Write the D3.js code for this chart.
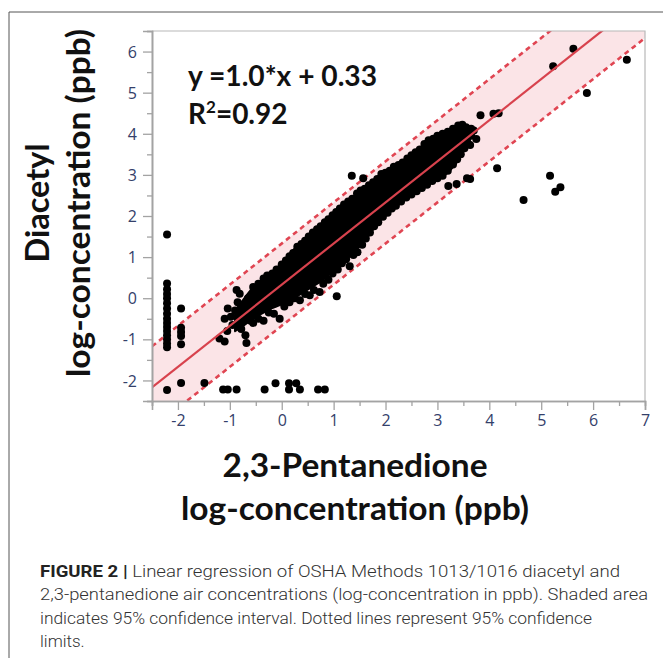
<!DOCTYPE html>
<html><head><meta charset="utf-8">
<script src="https://cdn.jsdelivr.net/npm/d3@7"></script>
<style>body{margin:0;background:#fff}</style>
</head><body>
<svg id="c" width="663" height="658"></svg>
<script>
// ---------- data ----------
const xTicks = [-2,-1,0,1,2,3,4,5,6,7];
const yTicks = [-2,-1,0,1,2,3,4,5,6];
const xDomain = [-2.5, 7];
const yDomain = [-2.5, 6.5];
const fitSlope = 1.0, fitIntercept = 0.33, limitOffset = 1.0;
const equationText = "y =1.0*x + 0.33";
const r2Text = "0.92";

// dense core of the cluster (x, lower edge, upper edge)
const clusterX  = [-0.9,-0.75,-0.55,-0.25,0.0,0.3,0.55,0.8,1.05,1.3,1.6,1.9,2.2,2.5,2.8,3.1,3.4,3.6,3.7];
const clusterLo = [-0.8,-0.68,-0.5,-0.28,-0.15,0.05,0.25,0.45,0.75,1.0,1.4,1.9,2.25,2.5,2.75,2.95,3.35,3.8,4.05];
const clusterHi = [-0.3,-0.05,0.27,0.57,0.85,1.28,1.55,1.85,2.1,2.38,2.68,3.0,3.2,3.48,3.8,3.98,4.18,4.15,4.1];

// points along the upper edge of the cluster
const upperEdgePts = [[-0.55,0.27],[-0.45,0.35],[-0.35,0.48],[-0.28,0.55],[-0.18,0.6],[-0.1,0.7],[0.0,0.82],[0.08,0.92],[0.15,1.02],[0.22,1.1],[0.3,1.25],[0.38,1.32],[0.45,1.4],[0.52,1.5],[0.6,1.6],[0.68,1.68],[0.75,1.75],[0.83,1.85],[0.9,1.92],[0.98,2.02],[1.05,2.1],[1.12,2.18],[1.2,2.28],[1.28,2.35],[1.36,2.42],[1.45,2.55],[1.52,2.62],[1.6,2.66],[1.68,2.75],[1.76,2.82],[1.84,2.9],[1.92,3.02],[2.0,3.05],[2.08,3.1],[2.16,3.2],[2.25,3.24],[2.33,3.3],[2.42,3.4],[2.5,3.48],[2.58,3.55],[2.66,3.62],[2.75,3.75],[2.83,3.84],[2.92,3.88],[3.0,3.95],[3.1,4.0],[3.2,4.05],[3.3,4.12],[3.4,4.2],[3.48,4.22],[3.55,4.16],[3.65,4.12]];
// points along the lower edge of the cluster
const lowerEdgePts = [[-0.55,-0.6],[-0.45,-0.5],[-0.35,-0.55],[-0.25,-0.35],[-0.15,-0.38],[-0.04,-0.5],[0.05,-0.2],[0.15,-0.1],[0.25,0.0],[0.35,-0.05],[0.45,0.1],[0.54,0.07],[0.62,0.2],[0.73,0.15],[0.8,0.35],[0.9,0.45],[0.98,0.6],[1.08,0.7],[1.16,0.85],[1.24,0.95],[1.31,0.78],[1.38,1.05],[1.46,1.12],[1.55,1.3],[1.62,1.45],[1.7,1.6],[1.78,1.75],[1.86,1.85],[1.95,1.98],[2.04,2.08],[2.12,2.18],[2.2,2.25],[2.3,2.35],[2.4,2.45],[2.5,2.52],[2.6,2.6],[2.7,2.68],[2.8,2.76],[2.9,2.85],[3.0,2.92],[3.1,2.98],[3.2,3.1],[3.3,3.25],[3.38,3.38],[3.45,3.5],[3.52,3.65],[3.58,3.78],[3.65,3.95],[3.7,4.08]];
// sparser lower-left end of the cluster
const clusterTailPts = [[-1.2,-0.98],[-1.1,-1.05],[-1.05,-0.8],[-1.1,-0.5],[-1.04,-0.25],[-0.98,-0.45],[-0.95,-0.65],[-0.9,-0.3],[-0.85,-0.1],[-0.87,0.2],[-0.81,0.11],[-0.8,-0.45],[-0.78,-0.75],[-0.72,-0.2],[-0.68,-1.09],[-0.7,-0.9],[-0.65,0.0],[-0.6,-0.55],[-0.6,-0.3]];
// points at the detection limit (left columns and bottom row)
const leftColumnPts = [[-2.21,1.55],[-2.21,0.36],[-2.21,0.22],[-2.21,0.1],[-2.21,0.0],[-2.21,-0.12],[-2.21,-0.25],[-2.21,-0.38],[-2.21,-0.5],[-2.21,-0.6],[-2.21,-0.7],[-2.21,-0.8],[-2.21,-0.9],[-2.21,-1.0],[-2.21,-1.1],[-2.21,-1.19],[-2.21,-2.23],[-1.94,-0.25],[-1.94,-0.72],[-1.94,-0.82],[-1.94,-0.92],[-1.94,-1.12],[-1.94,-2.06]];
const bottomRowPts = [[-1.49,-2.06],[-1.13,-2.22],[-1.04,-2.22],[-0.87,-2.22],[-0.33,-2.22],[-0.12,-2.07],[0.14,-2.07],[0.14,-2.22],[0.28,-2.07],[0.35,-2.22],[0.70,-2.22],[0.83,-2.22]];
// scattered points off the main band
const outlierPts = [[1.06,0.05],[1.35,2.98],[1.57,2.92],[3.21,2.73],[3.37,2.78],[3.57,2.92],[3.63,2.9],[3.63,3.73],[3.75,3.87],[3.83,4.45],[4.08,4.49],[4.18,4.5],[4.15,3.16],[4.66,2.39],[5.17,2.98],[5.27,2.59],[5.37,2.7],[5.23,5.64],[5.62,6.07],[5.88,4.99],[6.65,5.8]];

const xTitle = ["2,3-Pentanedione","log-concentration (ppb)"];
const yTitle = ["Diacetyl","log-concentration (ppb)"];
const captionBold = "FIGURE 2 |";
const captionLines = [" Linear regression of OSHA Methods 1013/1016 diacetyl and",
  "2,3-pentanedione air concentrations (log-concentration in ppb). Shaded area",
  "indicates 95% confidence interval. Dotted lines represent 95% confidence",
  "limits."];

// ---------- drawing ----------
const svg = d3.select('#c');
const M = {left:152, right:645, top:31, bottom:401};
const x = d3.scaleLinear().domain(xDomain).range([M.left, M.right]);
const y = d3.scaleLinear().domain(yDomain).range([M.bottom, M.top]);
const fit = v => fitSlope*v + fitIntercept;

// outer figure frame
svg.append('line').attr('x1',9).attr('x2',9).attr('y1',12).attr('y2',658).attr('stroke','#555').attr('stroke-width',1);
svg.append('line').attr('x1',9).attr('x2',663).attr('y1',12).attr('y2',12).attr('stroke','#555').attr('stroke-width',1);

svg.append('clipPath').attr('id','clip').append('rect')
  .attr('x',M.left).attr('y',M.top).attr('width',M.right-M.left).attr('height',M.bottom-M.top);
const g = svg.append('g').attr('clip-path','url(#clip)');

const ends = xDomain.map(v => ({x:v, lo:fit(v)-limitOffset, mid:fit(v), hi:fit(v)+limitOffset}));
g.append('path').datum(ends)
  .attr('d', d3.area().x(d=>x(d.x)).y0(d=>y(d.lo)).y1(d=>y(d.hi)))
  .attr('fill','#fbe4e7');
['lo','hi'].forEach(k => {
  g.append('path').datum(ends)
    .attr('d', d3.line().x(d=>x(d.x)).y(d=>y(d[k])))
    .attr('fill','none').attr('stroke','#e04552').attr('stroke-width',2.6)
    .attr('stroke-dasharray','5,4');
});

const core = clusterX.map((v,i)=>[v, clusterLo[i], clusterHi[i]]);
g.append('path').datum(core)
  .attr('d', d3.area().x(d=>x(d[0])).y0(d=>y(d[1])).y1(d=>y(d[2])).curve(d3.curveMonotoneX))
  .attr('fill','#000').attr('stroke','#000').attr('stroke-width',2).attr('stroke-linejoin','round');

const allPts = [].concat(upperEdgePts, lowerEdgePts, clusterTailPts, leftColumnPts, bottomRowPts, outlierPts);
g.selectAll('circle.pt').data(allPts).enter().append('circle')
  .attr('class','pt').attr('cx',d=>x(d[0])).attr('cy',d=>y(d[1])).attr('r',4).attr('fill','#000');

g.append('path').datum(ends)
  .attr('d', d3.line().x(d=>x(d.x)).y(d=>y(d.mid)))
  .attr('fill','none').attr('stroke','#d8424d').attr('stroke-width',2.2);

// plot border (top/right)
svg.append('path').attr('d',`M${M.left},${M.top}H${M.right}V${M.bottom}`)
  .attr('fill','none').attr('stroke','#b8b8b8').attr('stroke-width',1.2);

// axes
const axisColor = '#a3a3a3', labColor = '#34406a';
const xMinor = d3.range(-2.5, 7.01, 0.5).filter(v => !Number.isInteger(v));
const yMinor = d3.range(-2.5, 6.51, 0.5).filter(v => !Number.isInteger(v));
const fmt = d => String(d);
const xa = svg.append('g').attr('transform',`translate(0,${M.bottom})`);
xa.call(d3.axisBottom(x).tickValues(xTicks).tickSize(9).tickPadding(5).tickFormat(fmt));
xa.call(g2=>g2.append('g').call(d3.axisBottom(x).tickValues(xMinor).tickSize(5).tickFormat('')));
const ya = svg.append('g').attr('transform',`translate(${M.left},0)`);
ya.call(d3.axisLeft(y).tickValues(yTicks).tickSize(9).tickPadding(6).tickFormat(fmt));
ya.call(g2=>g2.append('g').call(d3.axisLeft(y).tickValues(yMinor).tickSize(5).tickFormat('')));
svg.selectAll('.domain').attr('stroke',axisColor).attr('stroke-width',1.6);
svg.selectAll('.tick line').attr('stroke',axisColor).attr('stroke-width',1.3);
svg.selectAll('.tick text').attr('fill',labColor).style('font-family','"Open Sans", sans-serif').style('font-size','16px');
ya.selectAll('.tick text').attr('dy','0.35em');

// equation
const eqFont = 'Lato, "Open Sans", sans-serif';
svg.append('text').attr('x',188).attr('y',86).attr('textLength',189).attr('lengthAdjust','spacingAndGlyphs')
  .style('font-family',eqFont).style('font-weight','bold').style('font-size','28px').attr('fill','#111')
  .text(equationText);
const r2 = svg.append('text').attr('x',188).attr('y',124)
  .style('font-family',eqFont).style('font-weight','bold').style('font-size','28px').attr('fill','#111');
r2.append('tspan').text('R');
r2.append('tspan').attr('dy',-11).style('font-size','17px').text('2');
r2.append('tspan').attr('dy',11).text('=' + r2Text);

// axis titles
const tFont = 'Lato, "Open Sans", sans-serif';
[[xTitle[0],477,265],[xTitle[1],520,348]].forEach(([t,yy,w]) => {
  svg.append('text').attr('x',355).attr('y',yy).attr('text-anchor','middle')
    .attr('textLength',w).attr('lengthAdjust','spacingAndGlyphs')
    .style('font-family',tFont).style('font-weight','bold').style('font-size','33px').attr('fill','#111').text(t);
});
[[yTitle[0],49,119],[yTitle[1],90,348]].forEach(([t,xx,w]) => {
  svg.append('text').attr('transform',`translate(${xx},203) rotate(-90)`).attr('text-anchor','middle')
    .attr('textLength',w).attr('lengthAdjust','spacingAndGlyphs')
    .style('font-family',tFont).style('font-weight','bold').style('font-size','33px').attr('fill','#111').text(t);
});

// caption
const capFont = 'Roboto, "Liberation Sans", sans-serif';
const capX = 40, capBase = [577, 600, 624, 647], capW = [580, 608, 552, null];
captionLines.forEach((line, i) => {
  const t = svg.append('text').attr('x',capX).attr('y',capBase[i])
    .style('font-family',capFont).style('font-size','17px').style('font-weight','300').attr('fill','#333');
  if (capW[i]) t.attr('textLength',capW[i]).attr('lengthAdjust','spacingAndGlyphs');
  if (i === 0) t.append('tspan').style('font-weight','bold').attr('fill','#222').text(captionBold);
  t.append('tspan').text(line);
});
</script>
</body></html>
